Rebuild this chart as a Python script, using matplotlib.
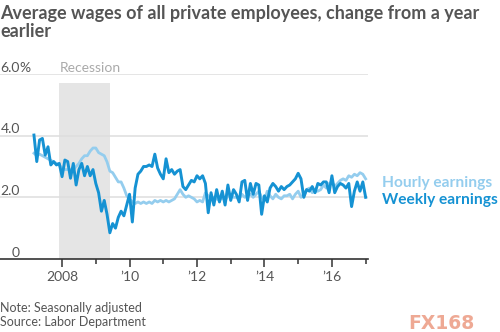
import matplotlib
matplotlib.use("Agg")
import matplotlib.pyplot as plt
import pandas as pd
import numpy as np

# ---- data ----
months = pd.date_range("2007-03-01", "2017-01-01", freq="MS")
weekly = [4.02, 3.16, 3.86, 3.91, 3.37, 3.64, 3.05, 3.16, 3.05, 3.10,
          2.67, 3.21, 3.16, 2.62, 3.10, 2.40, 2.90, 3.10, 2.70, 3.00, 2.70, 2.90,
          2.45, 2.15, 1.55, 1.90, 1.45, 0.85, 1.15, 1.00, 1.35, 1.55, 1.40, 1.75,
          2.10, 1.20, 2.30, 2.75, 2.85, 3.00, 3.00, 3.05, 3.00, 3.40, 2.95, 2.75,
          2.60, 3.25, 2.80, 2.90, 2.75, 2.85, 2.90, 2.35, 2.25, 2.40, 2.55, 2.50,
          2.70, 2.60, 2.70, 2.45, 1.50, 2.15, 1.75, 2.25, 1.85, 2.20, 1.75, 2.40,
          1.90, 2.25, 2.10, 1.85, 2.50, 2.55, 1.90, 2.45, 2.10, 2.45, 2.40, 1.45,
          2.05, 1.85, 2.30, 2.45, 2.35, 2.20, 2.35, 2.25, 2.35, 2.40, 2.50, 2.60,
          2.78, 2.60, 2.00, 2.25, 2.20, 2.35, 2.15, 2.45, 2.40, 2.50, 2.50, 2.15,
          2.70, 2.15, 2.35, 2.45, 2.40, 2.30, 2.45, 1.70, 2.20, 2.50, 2.20, 2.50,
          2.00]
hourly = [3.43, 3.35, 3.40, 3.35, 3.30, 3.25, 3.20, 3.15, 3.10, 3.05,
          2.95, 2.90, 2.90, 2.90, 2.90, 3.00, 3.10, 3.25, 3.35, 3.35, 3.50, 3.60,
          3.60, 3.45, 3.40, 3.35, 3.15, 2.85, 2.80, 2.65, 2.50, 2.50, 2.30, 2.05,
          1.95, 1.85, 1.80, 1.85, 1.80, 1.85, 1.80, 1.85, 1.80, 1.90, 1.85, 1.90,
          1.85, 1.90, 1.85, 1.90, 1.95, 2.10, 2.25, 2.10, 2.00, 2.05, 2.00, 1.95,
          1.85, 1.90, 1.85, 2.15, 2.05, 2.00, 2.00, 1.95, 1.90, 2.00, 1.90, 2.05,
          2.10, 2.00, 2.00, 1.95, 2.10, 2.00, 2.05, 2.10, 2.00, 2.10, 2.20, 2.00,
          1.90, 2.20, 2.05, 1.95, 2.10, 2.00, 1.95, 2.05, 2.05, 2.10, 1.95, 2.10,
          2.20, 2.00, 2.10, 2.25, 2.30, 2.15, 2.20, 2.20, 2.25, 2.40, 2.30, 2.45,
          2.50, 2.35, 2.45, 2.55, 2.60, 2.55, 2.70, 2.65, 2.75, 2.70, 2.80, 2.75,
          2.60]
recession = (2007 + 11/12, 2009 + 5/12)
yticks = [0, 2, 4, 6]
ytick_labels = ["0", "2.0", "4.0", "6.0"]
xticks_major = [2008, 2010, 2012, 2014, 2016]
xtick_labels = ["2008", "\u201910", "\u201912", "\u201914", "\u201916"]
xticks_minor = [2009, 2011, 2013, 2015, 2017]
title_lines = ["Average wages of all private employees, change from a year", "earlier"]

x = np.array([d.year + (d.month - 1) / 12 for d in months])

FONT = "Lato"
GRAY = "#555555"
DARK = "#1592d3"
LIGHT = "#94cdee"

fig = plt.figure(figsize=(5, 3.32), dpi=100)
ax = fig.add_axes([0, 0.2199, 0.736, 0.5572])
ax.set_xlim(2006.16, 2017.07)
ax.set_ylim(0, 6)

for s in ["top", "right", "left"]:
    ax.spines[s].set_visible(False)
ax.spines["bottom"].set_color("#333333")
ax.spines["bottom"].set_linewidth(1.2)

for v in yticks[1:]:
    ax.axhline(v, color="#dedede", lw=1.1, zorder=1)

ax.axvspan(recession[0], recession[1], ymin=0, ymax=5.7 / 6,
           color="#e5e5e5", lw=0, zorder=0.5)

ax.plot(x, hourly, color=LIGHT, lw=2.0, zorder=3, solid_joinstyle="round")
ax.plot(x, weekly, color=DARK, lw=2.1, zorder=4, solid_joinstyle="round")

ax.set_yticks([])
ax.set_xticks(xticks_major)
ax.set_xticklabels(xtick_labels, fontfamily=FONT, fontsize=10, color=GRAY)
ax.set_xticks(xticks_minor, minor=True)
ax.tick_params(axis="x", which="major", length=6, width=1.1, color="#333333", pad=3)
ax.tick_params(axis="x", which="minor", length=3.5, width=1.1, color="#333333")

ytr = ax.get_yaxis_transform()
for v, lab in zip(yticks, ytick_labels):
    ax.text(20 / 368, v + 0.08, lab, transform=ytr, ha="right", va="baseline",
            fontfamily=FONT, fontsize=10, color=GRAY, clip_on=False)
ax.text(19 / 368, 6.08, "%", transform=ytr, ha="left", va="baseline",
        fontfamily=FONT, fontsize=10, color=GRAY, clip_on=False)
ax.text(recession[0], 6.08, "Recession", ha="left", va="baseline",
        fontfamily=FONT, fontsize=10, color="#aaaaaa", clip_on=False)

fig.text(0.0, 1 - 19 / 332, title_lines[0], ha="left", va="baseline",
         fontfamily=FONT, fontweight="bold", fontsize=13, color=GRAY)
fig.text(0.0, 1 - 37 / 332, title_lines[1], ha="left", va="baseline",
         fontfamily=FONT, fontweight="bold", fontsize=13, color=GRAY)

fig.text(382 / 500, 1 - 187 / 332, "Hourly earnings", ha="left", va="baseline",
         fontfamily=FONT, fontweight="bold", fontsize=11.2, color=LIGHT)
fig.text(382 / 500, 1 - 204 / 332, "Weekly earnings", ha="left", va="baseline",
         fontfamily=FONT, fontweight="bold", fontsize=11.2, color=DARK)

fig.text(0.0, 1 - 312 / 332, "Note: Seasonally adjusted", ha="left", va="baseline",
         fontfamily=FONT, fontsize=9, color=GRAY)
fig.text(0.0, 1 - 326 / 332, "Source: Labor Department", ha="left", va="baseline",
         fontfamily=FONT, fontsize=9, color=GRAY)

fig.text(408 / 500, 1 - 329 / 332, "FX168", ha="left", va="baseline",
         fontfamily="DejaVu Sans", fontweight="bold", fontsize=13.5,
         color="#ec9a82", alpha=0.85)

fig.savefig("out.png", dpi=100)
